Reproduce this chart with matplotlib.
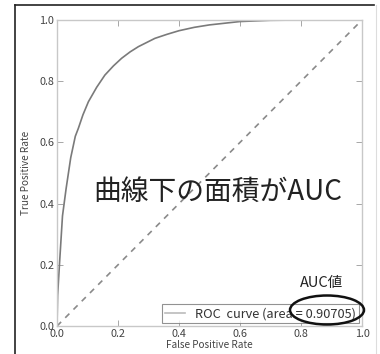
import matplotlib.pyplot as plt
from matplotlib.patches import Ellipse
from matplotlib.lines import Line2D

plt.rcParams['font.family'] = ['Noto Sans CJK JP', 'DejaVu Sans']

# ROC curve
fpr = [0, 0.002, 0.008, 0.018, 0.03, 0.045, 0.06, 0.07, 0.085, 0.103, 0.13, 0.157,
       0.185, 0.212, 0.24, 0.267, 0.321, 0.36, 0.4, 0.45, 0.5, 0.6, 0.7, 0.8, 1.0]
tpr = [0, 0.1, 0.2, 0.36, 0.45, 0.55, 0.62, 0.646, 0.69, 0.733, 0.78, 0.82,
       0.85, 0.875, 0.896, 0.913, 0.94, 0.953, 0.965, 0.976, 0.984, 0.995, 0.999, 1.0, 1.0]
auc = 0.90705
ticks = [0.0, 0.2, 0.4, 0.6, 0.8, 1.0]
tick_labels = ['0.0', '0.2', '0.4', '0.6', '0.8', '1.0']

fig = plt.figure(figsize=(3.8, 3.54), dpi=100)
ax = fig.add_axes([0.15, 0.079, 0.8026, 0.8645])

ax.plot(fpr, tpr, color='#7a7a7a', lw=1.2, label=f'ROC  curve (area = {auc})')
ax.plot([0, 1], [0, 1], color='#8a8a8a', lw=1.2, ls=(0, (3.5, 3.5)))

ax.set_xlim(0, 1)
ax.set_ylim(0, 1)
ax.set_xticks(ticks)
ax.set_yticks(ticks)
ax.set_xticklabels(tick_labels)
ax.set_yticklabels(tick_labels)
ax.tick_params(direction='in', top=True, right=True, length=4, width=0.6,
               color='#999999', labelsize=7.8, labelcolor='#444444', pad=2)
for s in ax.spines.values():
    s.set_color('#c8c8c8')
    s.set_linewidth(1.0)

ax.set_xlabel('False Positive Rate', fontsize=7.2, color='#444444', labelpad=1)
ax.set_ylabel('True Positive Rate', fontsize=7.2, color='#444444', labelpad=6)

leg = ax.legend(loc='lower right', fontsize=9.2, frameon=True, fancybox=False,
                handlelength=1.6, borderpad=0.25, borderaxespad=0.2)
leg.get_frame().set_edgecolor('#777777')
leg.get_frame().set_linewidth(0.8)
leg.get_lines()[0].set_color('#bbbbbb')
for t in leg.get_texts():
    t.set_color('#333333')

fig.text(0.574, 0.458, '曲線下の面積がAUC', fontsize=20, color='#222222',
         ha='center', va='center')
fig.text(0.845, 0.2, 'AUC値', fontsize=10.5, color='#222222', ha='center', va='center')
fig.patches.append(Ellipse((327 / 380, 1 - 310 / 354), 74 / 380, 29 / 354,
                           transform=fig.transFigure, fill=False,
                           edgecolor='#111111', lw=1.8))

# outer frame lines
fig.lines.append(Line2D([15 / 380, 374 / 380], [1 - 5 / 354, 1 - 5 / 354],
                        transform=fig.transFigure, color='#222222', lw=1.2))
fig.lines.append(Line2D([15 / 380, 15 / 380], [0, 1 - 5 / 354],
                        transform=fig.transFigure, color='#222222', lw=1.2))
fig.lines.append(Line2D([376 / 380, 376 / 380], [0, 1 - 5 / 354],
                        transform=fig.transFigure, color='#dddddd', lw=0.8))

fig.savefig('out.png', dpi=100)
